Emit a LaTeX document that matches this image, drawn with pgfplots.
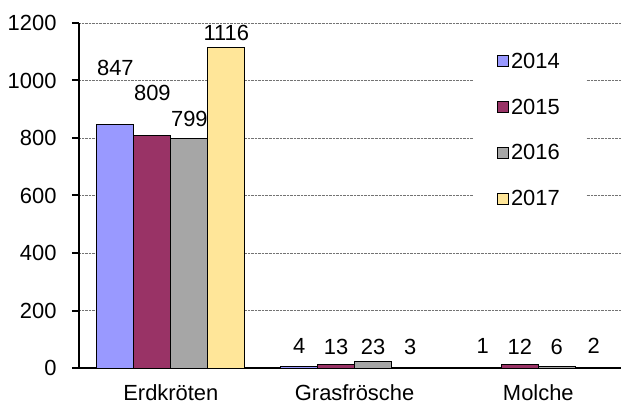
\documentclass[border=0pt]{standalone}
\usepackage{pgfplots}
\pgfplotsset{compat=1.18}
\usepackage{pgfplotstable}
\usepackage{fontspec}
\setmainfont{Liberation Sans}
\definecolor{cA}{HTML}{9999FF}
\definecolor{cB}{HTML}{993366}
\definecolor{cC}{HTML}{A6A6A6}
\definecolor{cD}{HTML}{FFE699}
\pgfplotstableread{
x y off
0 847 49
1 4 13
2 1 14
}\tA
\pgfplotstableread{
x y off
0 809 35
1 13 10
2 12 10.5
}\tB
\pgfplotstableread{
x y off
0 799 12
1 23 7
2 6 12
}\tC
\pgfplotstableread{
x y off
0 1116 7
1 3 13
2 2 13.5
}\tD
\begin{document}
\begin{tikzpicture}
\begin{axis}[
  at={(0,0)}, anchor=south west, scale only axis,
  width=542bp, height=345bp,
  xmin=-0.5, xmax=2.45, ymin=0, ymax=1200,
  ybar=0pt, bar width=37bp,
  xtick={0,1,2}, xticklabels={Erdkröten,Grasfrösche,Molche},
  ytick={0,200,...,1200},
  axis lines*=left,
  axis line style={line width=2.5bp, black},
  ymajorgrids,
  grid style={densely dotted, black!55, line width=0.6bp},
  x tick style={draw=none},
  y tick style={line width=2bp, black},
  tick align=outside, major tick length=7bp,
  ticklabel style={font=\fontsize{22}{26}\selectfont},
  yticklabel style={xshift=-12bp},
  xticklabel style={yshift=-6bp},
  /pgf/number format/assume math mode=true,
  /pgf/number format/1000 sep={},
  nodes near coords,
  visualization depends on={\thisrow{off} \as \myoff},
  every node near coord/.append style={anchor=base, inner sep=0pt, yshift=\myoff bp, font=\fontsize{22}{26}\selectfont, black},
  legend style={at={(0.727,0.937)}, anchor=north west, draw=none, fill=white,
    font=\fontsize{22}{26}\selectfont, row sep=25bp, inner xsep=24bp, inner ysep=6bp},
  legend cell align=left,
  legend image code/.code={\draw[#1, draw=black, line width=0.8bp] (-2.5bp,-5.5bp) rectangle (8.5bp,5.5bp);},
]
\addplot[fill=cA, draw=black, line width=0.8bp] table[x=x,y=y] {\tA};
\addplot[fill=cB, draw=black, line width=0.8bp] table[x=x,y=y] {\tB};
\addplot[fill=cC, draw=black, line width=0.8bp] table[x=x,y=y] {\tC};
\addplot[fill=cD, draw=black, line width=0.8bp] table[x=x,y=y] {\tD};
\legend{2014,2015,2016,2017}
\end{axis}
\pgfresetboundingbox
\path (-79bp,-38bp) rectangle (542bp,368bp);
\end{tikzpicture}
\end{document}
